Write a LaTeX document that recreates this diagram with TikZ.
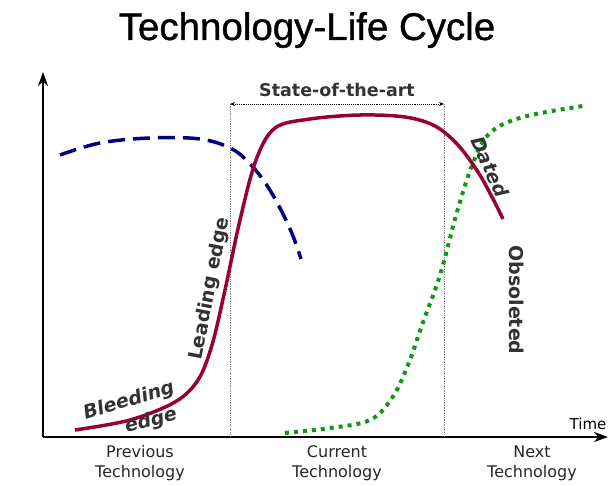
\documentclass[tikz,border=0pt]{standalone}
\usepackage{fontspec}
\setmainfont{DejaVu Sans}
\newfontfamily\titlefont[FakeBold=1]{Liberation Sans}
\usetikzlibrary{arrows.meta}
\definecolor{maroon}{HTML}{990033}
\definecolor{navyblue}{HTML}{000080}
\definecolor{dotgreen}{HTML}{109910}
\definecolor{labelgrey}{HTML}{333333}
\tikzset{
    axis/.style={line width=2.5pt, -{Stealth[length=14pt,width=10pt]}},
    phase/.style={labelgrey, font=\fontsize{19}{19}\selectfont\bfseries},
    slanted/.style={phase, font=\fontsize{19}{19}\selectfont\bfseries\itshape},
    era/.style={align=center, font=\fontsize{16}{20}\selectfont, text=black!85},
    border/.style={gray, densely dotted, line width=0.7pt}
}
\begin{document}
\begin{tikzpicture}[x=1pt, y=-1pt]
    \useasboundingbox (0, 0) rectangle (615, 485);
    % title
    \node (title) at (307, 30) {\titlefont\fontsize{38.5}{38.5}\selectfont Technology-Life Cycle};
    % axes
    \coordinate (origin) at (43, 437);
    \coordinate (ytop) at (43, 72);
    \coordinate (xend) at (608, 437);
    \draw[axis] (origin) -- (ytop);
    \draw[axis] (origin) -- (xend);
    \node[font=\fontsize{15}{15}\selectfont] (time) at (588, 424) {Time};
    % state of the art
    \coordinate (sotaL) at (230, 104);
    \coordinate (sotaR) at (444, 104);
    \draw[border] (sotaL) -- (230, 437);
    \draw[border] (sotaR) -- (444, 437);
    \draw[densely dotted, line width=0.9pt, {Stealth[length=5pt,width=4pt]}-{Stealth[length=5pt,width=4pt]}] (sotaL) -- (sotaR);
    \node[labelgrey, font=\fontsize{17.5}{17.5}\selectfont\bfseries] (sota) at (337, 90) {State-of-the-art};
    % curves
    \draw[navyblue, line width=3.5pt, dash pattern=on 17pt off 8pt] plot[smooth, tension=0.6] coordinates {(60, 155) (100, 143) (150, 138) (200, 139) (232, 149) (252, 166) (268, 187) (282, 212) (293, 236) (301, 259)};
    \draw[dotgreen, line width=4pt, dash pattern=on 4pt off 5pt] plot[smooth, tension=0.6] coordinates {(285, 433) (330, 428) (370, 420) (392, 398) (408, 365) (422, 325) (440, 275) (457, 212) (473, 163) (490, 133) (523, 117) (583, 106)};
    \draw[maroon, line width=3.5pt] plot[smooth, tension=0.55] coordinates {(75, 430) (130, 420) (175, 402) (198, 380) (212, 345) (225, 290) (240, 220) (256, 160) (275, 128) (310, 119) (360, 115) (405, 117) (435, 126) (458, 145) (478, 172) (492, 197) (503, 219)};
    % phase labels
    \node[slanted, rotate=17] (bleeding) at (129, 401) {Bleeding};
    \node[slanted, rotate=14] (edge) at (151, 421) {edge};
    \node[phase, rotate=79] (leading) at (210, 289) {Leading edge};
    \node[slanted, rotate=-66] (dated) at (490, 167) {Dated};
    \node[phase, rotate=-90] (obsoleted) at (517, 300) {Obsoleted};
    % eras
    \node[era] (previous) at (140, 463) {Previous\\Technology};
    \node[era] (current) at (337, 463) {Current\\Technology};
    \node[era] (next) at (532, 463) {Next\\Technology};
\end{tikzpicture}
\end{document}
